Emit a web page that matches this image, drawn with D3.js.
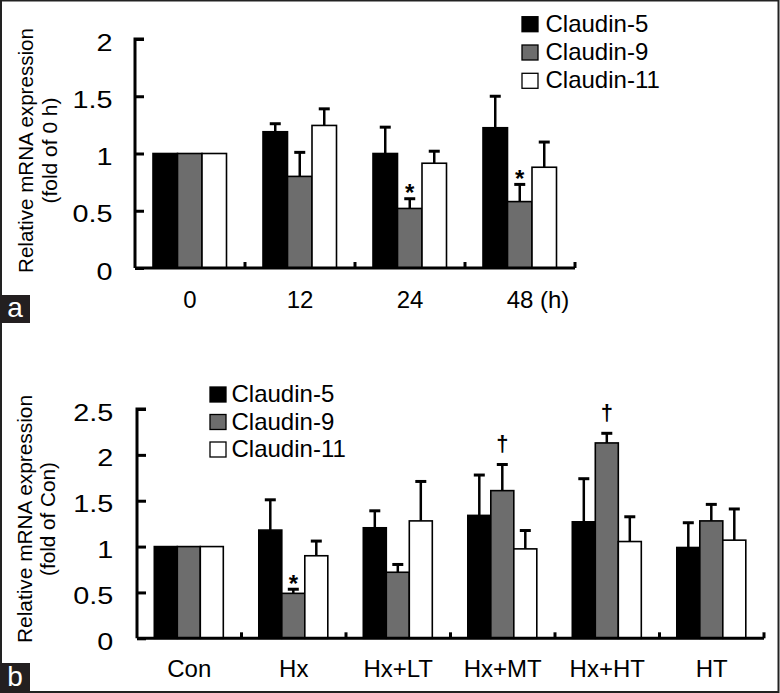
<!DOCTYPE html>
<html><head><meta charset="utf-8">
<script src="https://cdn.jsdelivr.net/npm/d3@7/dist/d3.min.js"></script>
<style>
html,body{margin:0;padding:0;background:#fff;}
svg{display:block;font-family:"Liberation Sans",Arial,sans-serif;}
</style></head>
<body>
<svg id="chart" width="780" height="693"></svg>
<script>
// ---------- DATA ----------
const series = ["Claudin-5", "Claudin-9", "Claudin-11"];
const seriesColors = ["#000000", "#6d6d6d", "#ffffff"];

// Panel a
const catsA = ["0", "12", "24", "48"];
const meanA = {
  "Claudin-5":  [1.00, 1.19, 1.00, 1.225],
  "Claudin-9":  [1.00, 0.80, 0.52, 0.58],
  "Claudin-11": [1.00, 1.245, 0.915, 0.88]
};
const errA = {  // upper error bar end
  "Claudin-5":  [1.00, 1.26, 1.23, 1.50],
  "Claudin-9":  [1.00, 1.01, 0.605, 0.73],
  "Claudin-11": [1.00, 1.39, 1.02, 1.10]
};
const yTicksA = [0, 0.5, 1, 1.5, 2];
const marksA = [{cat: "24", s: "Claudin-9", sym: "*"}, {cat: "48", s: "Claudin-9", sym: "*"}];

// Panel b
const catsB = ["Con", "Hx", "Hx+LT", "Hx+MT", "Hx+HT", "HT"];
const meanB = {
  "Claudin-5":  [1.00, 1.18, 1.205, 1.34, 1.27, 0.99],
  "Claudin-9":  [1.00, 0.49, 0.72, 1.61, 2.13, 1.28],
  "Claudin-11": [1.00, 0.90, 1.28, 0.975, 1.055, 1.07]
};
const errB = {
  "Claudin-5":  [1.00, 1.51, 1.39, 1.78, 1.74, 1.26],
  "Claudin-9":  [1.00, 0.535, 0.805, 1.895, 2.235, 1.46],
  "Claudin-11": [1.00, 1.06, 1.71, 1.175, 1.325, 1.41]
};
const yTicksB = [0, 0.5, 1, 1.5, 2, 2.5];
const marksB = [{cat: "Hx", s: "Claudin-9", sym: "*"}, {cat: "Hx+MT", s: "Claudin-9", sym: "†"}, {cat: "Hx+HT", s: "Claudin-9", sym: "†"}];

// ---------- DRAW ----------
const svg = d3.select("#chart");
const FONT = '"Liberation Sans",Arial,sans-serif';
const cv = document.createElement("canvas").getContext("2d");
function widthAt(str, size) {
  cv.font = size + 'px "Liberation Sans", Arial, sans-serif';
  return cv.measureText(str).width;
}

// outer border
svg.append("rect").attr("x", 1).attr("y", 0.5).attr("width", 777.5).attr("height", 691.5)
  .attr("fill", "none").attr("stroke", "#222").attr("stroke-width", 2);

function panel(cfg) {
  const g = svg.append("g");
  const x = d3.scaleBand().domain(cfg.cats).range([cfg.x0, cfg.x1]);
  const y = d3.scaleLinear().domain([0, cfg.ymax]).range([cfg.yb, cfg.yt]);
  const inner = d3.scaleBand().domain(series).range([cfg.pad, cfg.pad + 3 * cfg.bw]);

  // bars + error bars
  series.forEach((s, si) => {
    cfg.cats.forEach((c, ci) => {
      const bx = x(c) + inner(s);
      const v = cfg.mean[s][ci], e = cfg.err[s][ci];
      if (e > v + 0.001) {
        const cx = bx + cfg.bw / 2;
        g.append("line").attr("x1", cx).attr("x2", cx).attr("y1", y(v)).attr("y2", y(e))
          .attr("stroke", "#000").attr("stroke-width", 2.5);
        g.append("line").attr("x1", cx - 5.5).attr("x2", cx + 5.5).attr("y1", y(e)).attr("y2", y(e))
          .attr("stroke", "#000").attr("stroke-width", 3);
      }
      g.append("rect").attr("x", bx).attr("y", y(v))
        .attr("width", cfg.bw).attr("height", y(0) - y(v))
        .attr("fill", seriesColors[si]).attr("stroke", "#000").attr("stroke-width", 1.6);
    });
  });

  // significance marks
  cfg.marks.forEach(m => {
    const ci = cfg.cats.indexOf(m.cat);
    const cx = x(m.cat) + inner(m.s) + cfg.bw / 2;
    const e = cfg.err[m.s][ci];
    const isStar = m.sym === "*";
    g.append("text").attr("x", cx)
      .attr("y", isStar ? y(e) + 2.5 : y(e) - 19.5 + 6.5)
      .attr("text-anchor", "middle").attr("font-family", FONT)
      .attr("font-size", isStar ? 24 : 22).attr("font-weight", "bold")
      .text(m.sym);
  });

  // y axis (ticks point inward)
  const yAxis = d3.axisRight(y).tickValues(cfg.yticks).tickSize(9).tickFormat("");
  const ya = g.append("g").attr("transform", `translate(${cfg.x0},0)`).call(yAxis);
  ya.select(".domain").attr("d", `M9,${cfg.yt}H0V${cfg.yb}`).attr("stroke-width", 3).attr("stroke", "#000");
  ya.selectAll(".tick line").attr("stroke-width", 3).attr("stroke", "#000");
  cfg.yticks.forEach(d => {
    const str = String(d);
    g.append("text").attr("x", cfg.labX).attr("y", y(d) + 11.5)
      .attr("text-anchor", "end").attr("font-family", FONT).attr("font-size", 24)
      .attr("textLength", widthAt(str, 24) * 1.2).attr("lengthAdjust", "spacingAndGlyphs")
      .text(str);
  });

  // x axis
  const xAxis = d3.axisTop(x).tickSize(0).tickFormat("");
  const xa = g.append("g").attr("transform", `translate(0,${cfg.yb})`).call(xAxis);
  xa.select(".domain").attr("d", `M${cfg.x0},0H${cfg.x1}`).attr("stroke-width", 3).attr("stroke", "#000");
  xa.selectAll(".tick").remove();
  const bounds = cfg.cats.map(c => x(c)).slice(1).concat([cfg.x1]);
  g.selectAll(".bt").data(bounds).enter().append("line")
    .attr("x1", d => d).attr("x2", d => d).attr("y1", cfg.yb).attr("y2", cfg.yb - 6)
    .attr("stroke", "#000").attr("stroke-width", 3);
  cfg.cats.forEach((c, i) => {
    const cxm = x(c) + x.bandwidth() / 2;
    const t = g.append("text").attr("y", cfg.xlabY).attr("font-family", FONT).attr("font-size", 24);
    if (cfg.suffix && i === cfg.cats.length - 1) {
      t.attr("x", cxm - widthAt(c, 24) / 2).attr("text-anchor", "start").text(c + " " + cfg.suffix);
    } else {
      t.attr("x", cxm).attr("text-anchor", "middle").text(c);
    }
  });

  // y titles (rotated)
  [[cfg.title1, cfg.t1x, cfg.len1], [cfg.title2, cfg.t2x, cfg.len2]].forEach(([str, bx, len]) => {
    g.append("text").attr("transform", `translate(${bx},${cfg.tcy}) rotate(-90)`)
      .attr("font-family", FONT).attr("font-size", 21).attr("text-anchor", "middle")
      .attr("textLength", len).attr("lengthAdjust", "spacingAndGlyphs").text(str);
  });

  // legend
  series.forEach((s, i) => {
    const ly = cfg.legY + i * cfg.legDy;
    g.append("rect").attr("x", cfg.legX).attr("y", ly - 7.5).attr("width", 16).attr("height", 15)
      .attr("fill", seriesColors[i]).attr("stroke", "#000").attr("stroke-width", 1.3);
    g.append("text").attr("x", cfg.legTX).attr("y", ly + 7.6)
      .attr("font-family", FONT).attr("font-size", 24).text(s);
  });

  // panel letter
  svg.append("rect").attr("x", 0).attr("y", cfg.letY).attr("width", 30).attr("height", cfg.letH).attr("fill", "#231f20");
  svg.append("text").attr("x", 15).attr("y", cfg.letBase).attr("text-anchor", "middle")
    .attr("fill", "#fff").attr("font-family", FONT).attr("font-size", 28).text(cfg.letter);
}

panel({cats: catsA, mean: meanA, err: errA, yticks: yTicksA, marks: marksA,
  x0: 135, x1: 575, yb: 268, yt: 39, ymax: 2, pad: 18, bw: 24.5,
  labX: 112.5, xlabY: 308.3, suffix: "(h)",
  title1: "Relative mRNA expression", title2: "(fold of 0 h)",
  t1x: 33.3, t2x: 57, tcy: 150.5, len1: 245, len2: 106,
  legX: 522, legTX: 545.5, legY: 24.2, legDy: 28.3,
  letter: "a", letY: 295, letH: 28, letBase: 316.7});

panel({cats: catsB, mean: meanB, err: errB, yticks: yTicksB, marks: marksB,
  x0: 137, x1: 764, yb: 638.3, yt: 409, ymax: 2.5, pad: 17.3, bw: 23,
  labX: 113.3, xlabY: 676.7, suffix: null,
  title1: "Relative mRNA expression", title2: "(fold of Con)",
  t1x: 31.7, t2x: 54.6, tcy: 519, len1: 248, len2: 114,
  legX: 210, legTX: 231.5, legY: 394.5, legDy: 27.5,
  letter: "b", letY: 663, letH: 30, letBase: 686});
</script>
</body></html>
